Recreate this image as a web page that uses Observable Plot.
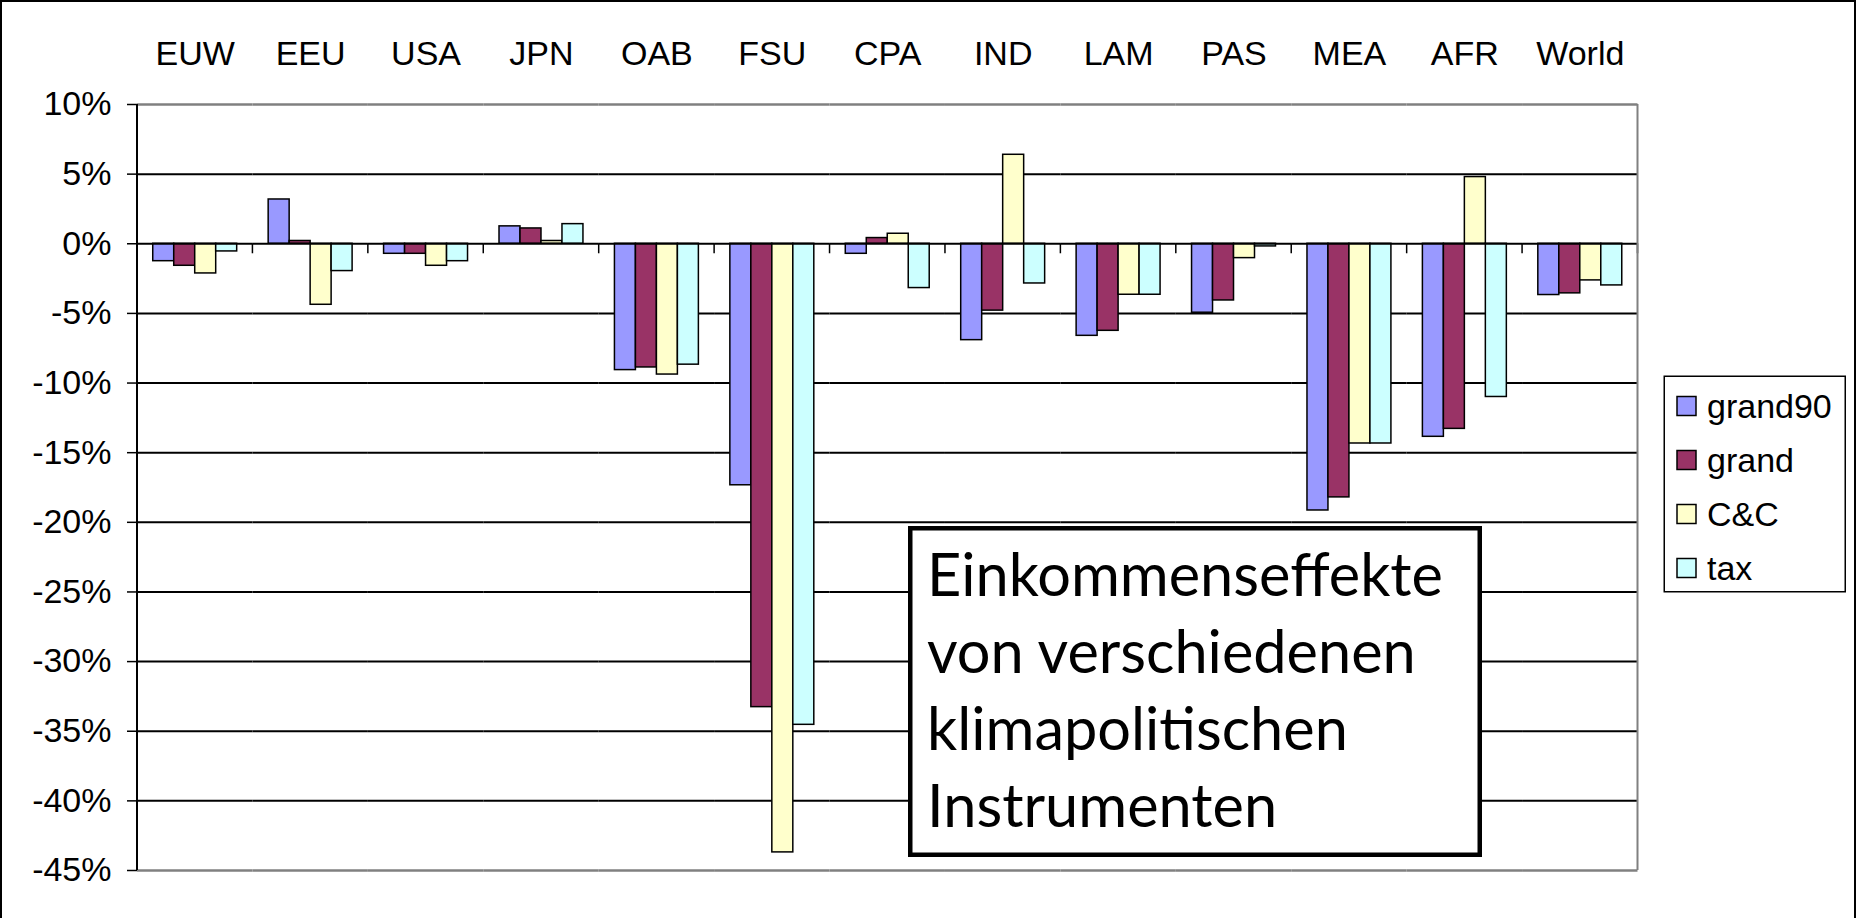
<!DOCTYPE html>
<html>
<head>
<meta charset="utf-8">
<script src="https://cdn.jsdelivr.net/npm/d3@7"></script>
<script src="https://cdn.jsdelivr.net/npm/@observablehq/plot@0.6"></script>
<style>
  html, body { margin: 0; padding: 0; background: #fff; }
  #wrap { position: relative; width: 1856px; height: 918px; overflow: hidden; background: #fff; }
  #wrap > svg, #wrap > div { position: absolute; left: 0; top: 0; }
  #outer { width: 1852px; height: 918px; border: 2px solid #000; border-bottom: none; pointer-events: none; box-sizing: content-box; }
</style>
</head>
<body>
<div id="wrap"></div>
<script>
const categories = ["EUW","EEU","USA","JPN","OAB","FSU","CPA","IND","LAM","PAS","MEA","AFR","World"];
const series = ["grand90","grand","C&C","tax"];
const colors = ["#9999FF","#993366","#FFFFCC","#CCFFFF"];
const grand90 = [-1.25, 3.18, -0.72, 1.25, -9.07, -17.34, -0.72, -6.92, -6.61, -4.95, -19.15, -13.86, -3.68];
const grand   = [-1.58, 0.2, -0.72, 1.1, -8.88, -33.27, 0.41, -4.8, -6.25, -4.07, -18.21, -13.29, -3.56];
const cc      = [-2.13, -4.38, -1.58, 0.2, -9.39, -43.7, 0.72, 6.39, -3.66, -1.03, -14.34, 4.79, -2.63];
const tax     = [-0.55, -1.96, -1.25, 1.41, -8.68, -34.54, -3.18, -2.85, -3.66, -0.19, -14.34, -11.0, -2.99];
const yTicks = [10, 5, 0, -5, -10, -15, -20, -25, -30, -35, -40, -45];
const gridTicks = [5, -5, -10, -15, -20, -25, -30, -35, -40];
const edgeTicks = [10, -45];
const titleLines = ["Einkommenseffekte", "von verschiedenen", "klimapolitischen", "Instrumenten"];

const seriesValues = [grand90, grand, cc, tax];
const rows = [];
categories.forEach((c, i) => series.forEach((s, j) => rows.push({cat: c, series: s, value: seriesValues[j][i]})));

const W = 1856, H = 918;

// category tick marks, left axis line and right frame edge, drawn from the plot's own scales
const axisLines = (index, scales, values, dim) => {
  const g = d3.create("svg:g");
  const left = dim.marginLeft;
  const y = scales.y;
  const n = categories.length;
  const bw = scales.fx ? scales.fx.bandwidth() : 0;
  const edge = c => scales.fx(c) + bw;
  const right = edge(categories[n - 1]);
  const y0 = y(0);
  categories.forEach(c => {
    const xr = edge(c);
    g.append("line").attr("x1", xr).attr("x2", xr).attr("y1", y0).attr("y2", y0 + 10)
      .attr("stroke", "#000").attr("stroke-width", 1.5);
  });
  g.append("line").attr("x1", right).attr("x2", right).attr("y1", y(10)).attr("y2", y(-45))
    .attr("stroke", "#808080").attr("stroke-width", 2);
  g.append("line").attr("x1", left).attr("x2", left).attr("y1", y(10)).attr("y2", y(-45))
    .attr("stroke", "#000").attr("stroke-width", 2);
  return g.node();
};

const chart = Plot.plot({
  width: W, height: H,
  marginLeft: 137, marginRight: 218.5, marginTop: 104, marginBottom: 48,
  style: {fontFamily: "'Liberation Sans', Arial, sans-serif", fontSize: "34px", color: "#000", background: "transparent", overflow: "visible"},
  fx: {domain: categories, padding: 0, round: false, label: null},
  x: {domain: series, paddingInner: 0, paddingOuter: 0.75, round: false, axis: null},
  y: {domain: [-45, 10], label: null},
  color: {domain: series, range: colors},
  marks: [
    Plot.ruleY(gridTicks, {stroke: "#000", strokeWidth: 2}),
    Plot.ruleY(edgeTicks, {stroke: "#808080", strokeWidth: 2.5}),
    Plot.barY(rows, {fx: "cat", x: "series", y: "value", fill: "series", stroke: "#000", strokeWidth: 1.5}),
    Plot.ruleY([0], {stroke: "#000", strokeWidth: 2}),
    Plot.ruleY([0], {facetAnchor: "left", render: axisLines}),
    Plot.axisY({ticks: yTicks, tickSize: 10, tickPadding: 16, tickFormat: d => `${d}%`, strokeWidth: 1.5, label: null, fontSize: 34}),
    Plot.axisFx({anchor: "top", tickSize: 0, tickPadding: 40, label: null, fontSize: 34})
  ]
});
const wrap = document.getElementById("wrap");
wrap.appendChild(chart);

// overlay: title box and legend
const ctx = document.createElement("canvas").getContext("2d");
ctx.font = "100px Lato";
const fs = 100 * 516 / ctx.measureText(titleLines[0]).width;

const ov = d3.create("svg").attr("width", W).attr("height", H).style("pointer-events", "none");
ov.append("rect").attr("x", 910.25).attr("y", 528.25).attr("width", 569.5).attr("height", 326.5)
  .attr("fill", "#fff").attr("stroke", "#000").attr("stroke-width", 4.5);
const baselines = [596, 673, 750, 827];
titleLines.forEach((t, i) => ov.append("text").attr("x", 927).attr("y", baselines[i])
  .attr("font-family", "Lato, 'Open Sans', sans-serif").attr("font-size", fs).attr("fill", "#000").text(t));

ov.append("rect").attr("x", 1664.25).attr("y", 376.25).attr("width", 181).attr("height", 215.5)
  .attr("fill", "#fff").attr("stroke", "#000").attr("stroke-width", 1.5);
series.forEach((s, i) => {
  const cy = 406 + i * 54;
  ov.append("rect").attr("x", 1677).attr("y", cy - 9.5).attr("width", 19).attr("height", 19)
    .attr("fill", colors[i]).attr("stroke", "#000").attr("stroke-width", 1.5);
  ov.append("text").attr("x", 1707).attr("y", cy + 11.5)
    .attr("font-family", "'Liberation Sans', Arial, sans-serif").attr("font-size", 34).attr("fill", "#000").text(s);
});
wrap.appendChild(ov.node());

const outer = document.createElement("div");
outer.id = "outer";
wrap.appendChild(outer);
</script>
</body>
</html>
